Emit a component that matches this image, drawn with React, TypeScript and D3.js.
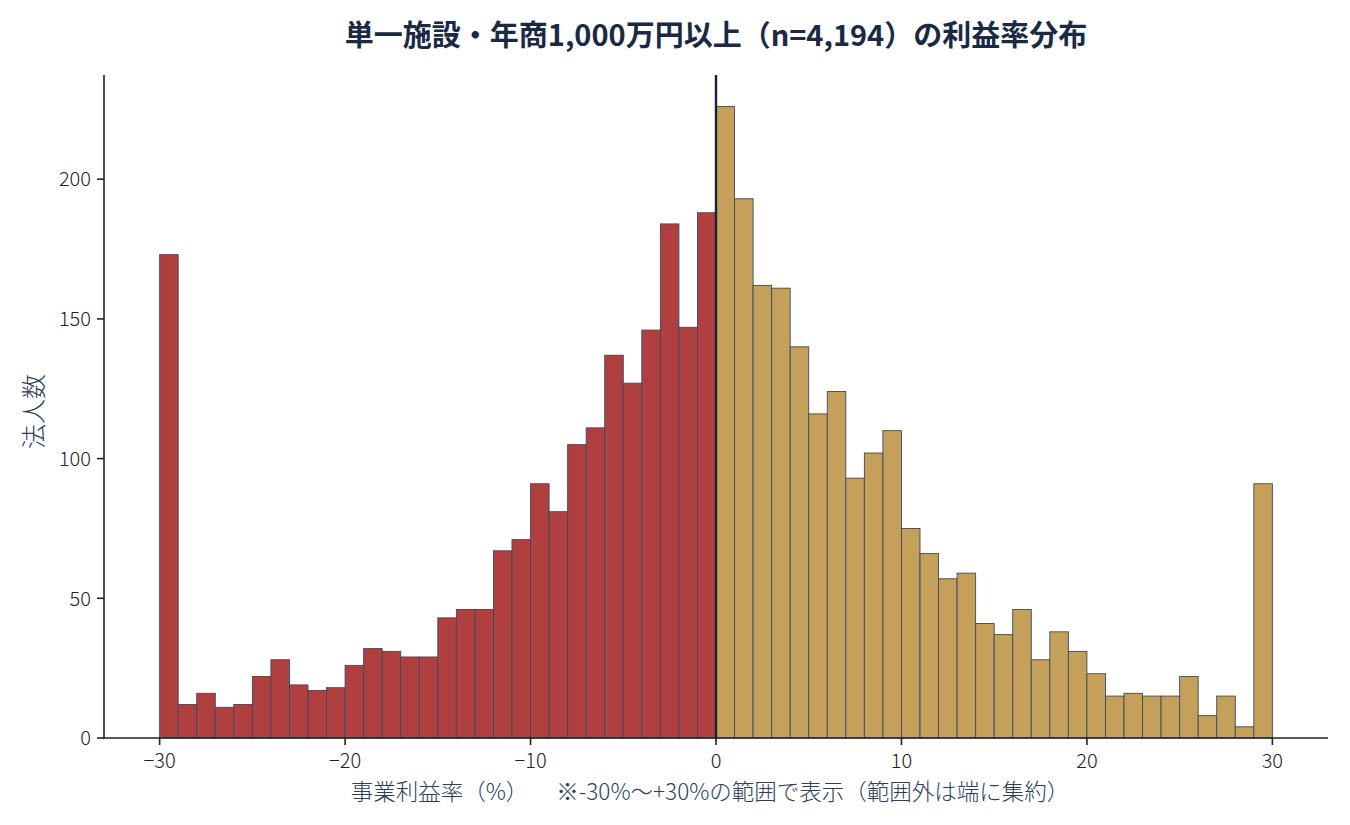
import React from "react";
import * as d3 from "d3";

const binStarts: number[] = d3.range(-30, 30);
const counts: number[] = [
  173, 12, 16, 11, 12, 22, 28, 19, 17, 18,
  26, 32, 31, 29, 29, 43, 46, 46, 67, 71,
  91, 81, 105, 111, 137, 127, 146, 184, 147, 188,
  226, 193, 162, 161, 140, 116, 124, 93, 102, 110,
  75, 66, 57, 59, 41, 37, 46, 28, 38, 31,
  23, 15, 16, 15, 15, 22, 8, 15, 4, 91,
];
const xTicks: number[] = [-30, -20, -10, 0, 10, 20, 30];
const yTicks: number[] = [0, 50, 100, 150, 200];
const title = "単一施設・年商1,000万円以上（n=4,194）の利益率分布";
const xLabelMain = "事業利益率（%）";
const xLabelNote = "※-30%～+30%の範囲で表示（範囲外は端に集約）";
const yLabel = "法人数";

const W = 1350;
const H = 825;
const left = 104;
const right = 1328;
const top = 75;
const bottom = 738;
const FONT = "'Noto Sans CJK JP', 'Noto Sans', sans-serif";

export default function App() {
  const x = d3.scaleLinear().domain([-33, 33]).range([left, right]);
  const yMax = d3.max(counts)! * 1.05;
  const y = d3.scaleLinear().domain([0, yMax]).range([bottom, top]);
  const fmt = (v: number) => (v < 0 ? "\u2212" + Math.abs(v) : String(v));

  return (
    <svg
      width={W}
      height={H}
      style={{ position: "absolute", left: 0, top: 0, background: "#fff" }}
      fontFamily={FONT}
    >
      {binStarts.map((b, i) => (
        <rect
          key={b}
          x={x(b)}
          y={y(counts[i])}
          width={x(b + 1) - x(b)}
          height={y(0) - y(counts[i])}
          fill={b < 0 ? "#b04040" : "#c4a05a"}
          stroke="#3c4a5e"
          strokeWidth={0.9}
        />
      ))}
      <line x1={x(0)} x2={x(0)} y1={top} y2={bottom} stroke="#14233c" strokeWidth={2.4} />
      {/* spines */}
      <line x1={left} x2={left} y1={top} y2={bottom + 0.8} stroke="#222" strokeWidth={1.6} />
      <line x1={left - 0.8} x2={right} y1={bottom} y2={bottom} stroke="#222" strokeWidth={1.6} />
      {xTicks.map((t) => (
        <g key={t}>
          <line x1={x(t)} x2={x(t)} y1={bottom} y2={bottom + 7} stroke="#222" strokeWidth={1.6} />
          <text x={x(t)} y={bottom + 30} textAnchor="middle" fontSize={20} fontWeight={300} fill="#222">
            {fmt(t)}
          </text>
        </g>
      ))}
      {yTicks.map((t) => (
        <g key={t}>
          <line x1={left - 7} x2={left} y1={y(t)} y2={y(t)} stroke="#222" strokeWidth={1.6} />
          <text x={left - 13} y={y(t)} dy="0.36em" textAnchor="end" fontSize={20} fontWeight={300} fill="#222">
            {t}
          </text>
        </g>
      ))}
      <text x={710} y={800} textAnchor="middle" fontSize={22.5} fontWeight={300} fill="#2c3e5a">
        {xLabelMain}
        <tspan dx={28}>{xLabelNote}</tspan>
      </text>
      <text
        transform={`translate(43, ${(top + bottom) / 2 + 5}) rotate(-90)`}
        textAnchor="middle"
        fontSize={25}
        fontWeight={300}
        fill="#2c3e5a"
      >
        {yLabel}
      </text>
      <text
        x={(left + right) / 2}
        y={46}
        textAnchor="middle"
        fontSize={29}
        fontWeight="bold"
        fill="#1b2a44"
      >
        {title}
      </text>
    </svg>
  );
}
